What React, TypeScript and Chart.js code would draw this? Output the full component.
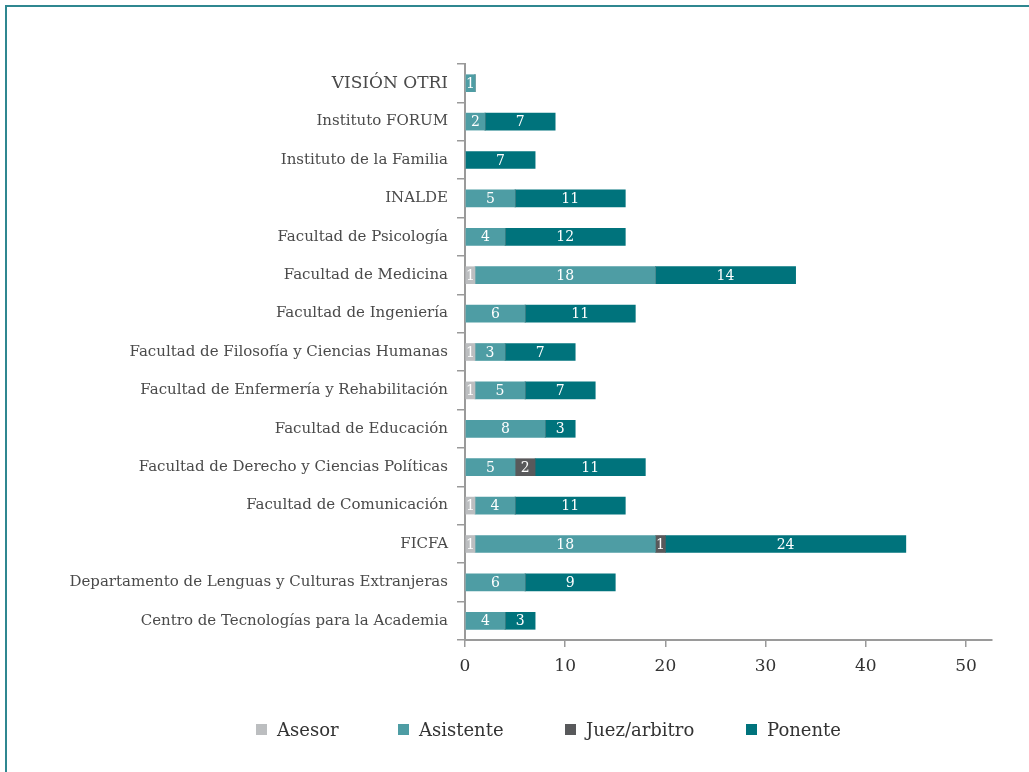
import React, { useEffect, useRef } from "react";
import { Chart, registerables } from "chart.js";

Chart.register(...registerables);

const categories = [
  "VISIÓN OTRI",
  "Instituto FORUM",
  "Instituto de la Familia",
  "INALDE",
  "Facultad de Psicología",
  "Facultad de Medicina",
  "Facultad de Ingeniería",
  "Facultad de Filosofía y Ciencias Humanas",
  "Facultad de Enfermería y Rehabilitación",
  "Facultad de Educación",
  "Facultad de Derecho y Ciencias Políticas",
  "Facultad de Comunicación",
  "FICFA",
  "Departamento de Lenguas y Culturas Extranjeras",
  "Centro de Tecnologías para la Academia",
];

const asesor = [0, 0, 0, 0, 0, 1, 0, 1, 1, 0, 0, 1, 1, 0, 0];
const asistente = [1, 2, 0, 5, 4, 18, 6, 3, 5, 8, 5, 4, 18, 6, 4];
const juez = [0, 0, 0, 0, 0, 0, 0, 0, 0, 0, 2, 0, 1, 0, 0];
const ponente = [0, 7, 7, 11, 12, 14, 11, 7, 7, 3, 11, 11, 24, 9, 3];

const seriesNames = ["Asesor", "Asistente", "Juez/arbitro", "Ponente"];
const seriesColors = ["#bcbec0", "#4e9da4", "#58595b", "#00737c"];
const xTickValues = [0, 10, 20, 30, 40, 50];

const FONT = "'DejaVu Serif', serif";

const barLabelPlugin = {
  id: "barLabels",
  afterDatasetsDraw(chart: any) {
    const ctx = chart.ctx;
    ctx.save();
    ctx.fillStyle = "#ffffff";
    ctx.font = `14px ${FONT}`;
    ctx.textAlign = "center";
    ctx.textBaseline = "middle";
    chart.data.datasets.forEach((ds: any, di: number) => {
      const meta = chart.getDatasetMeta(di);
      meta.data.forEach((el: any, i: number) => {
        const v = ds.data[i];
        if (!v) return;
        const cx = (el.x + el.base) / 2;
        ctx.fillText(String(v), cx, el.y + 1);
      });
    });
    ctx.restore();
  },
};

export default function App() {
  const ref = useRef<HTMLCanvasElement | null>(null);

  useEffect(() => {
    if (!ref.current) return;
    const data = [asesor, asistente, juez, ponente];
    const chart = new Chart(ref.current, {
      type: "bar",
      data: {
        labels: categories,
        datasets: seriesNames.map((name, k) => ({
          label: name,
          data: data[k],
          backgroundColor: seriesColors[k],
          borderWidth: 0,
          barThickness: 17,
        })),
      },
      options: {
        indexAxis: "y",
        animation: false,
        responsive: false,
        maintainAspectRatio: false,
        layout: { padding: { left: 10, right: 37, top: 64, bottom: 92 } },
        plugins: {
          legend: { display: false },
          tooltip: { enabled: false },
        },
        scales: {
          x: {
            stacked: true,
            min: 0,
            max: 52.6,
            afterBuildTicks: (scale: any) => {
              scale.ticks = xTickValues.map((v) => ({ value: v }));
            },
            afterFit: (scale: any) => {
              scale.height = 40;
            },
            ticks: {
              color: "#333333",
              font: { family: FONT, size: 17 },
              padding: 9,
              maxRotation: 0,
            },
            grid: {
              drawOnChartArea: false,
              drawTicks: true,
              tickLength: 7,
              color: "#9a9a9a",
              lineWidth: 1.5,
            },
            border: { display: true, color: "#9a9a9a", width: 2 },
          },
          y: {
            stacked: true,
            afterFit: (scale: any) => {
              scale.width = 455;
            },
            ticks: {
              color: "#4a4a4a",
              font: (c: any) => ({ family: FONT, size: c.index === 0 ? 17 : 15 }),
              padding: 9,
            },
            grid: {
              offset: true,
              drawOnChartArea: false,
              drawTicks: true,
              tickLength: 8,
              color: "#9a9a9a",
              lineWidth: 1.5,
            },
            border: { display: true, color: "#9a9a9a", width: 2 },
          },
        },
      } as any,
      plugins: [barLabelPlugin],
    });
    return () => chart.destroy();
  }, []);

  const legendX = [256, 398, 565, 746];

  return (
    <div
      style={{
        position: "fixed",
        left: 0,
        top: 0,
        width: 1029,
        height: 772,
        background: "#ffffff",
        overflow: "hidden",
      }}
    >
      <div
        style={{
          position: "absolute",
          left: 5,
          top: 5,
          width: 1100,
          height: 900,
          borderLeft: "2px solid #2f8790",
          borderTop: "2px solid #2f8790",
        }}
      />
      <canvas
        ref={ref}
        width={1029}
        height={772}
        style={{ position: "absolute", left: 0, top: 0, width: 1029, height: 772 }}
      />
      {seriesNames.map((name, k) => (
        <div
          key={name}
          style={{
            position: "absolute",
            left: legendX[k],
            top: 718,
            height: 22,
            display: "flex",
            alignItems: "center",
            fontFamily: FONT,
            fontSize: 18,
            color: "#333333",
            whiteSpace: "nowrap",
          }}
        >
          <span
            style={{
              display: "inline-block",
              width: 11,
              height: 11,
              background: seriesColors[k],
              marginRight: 10,
            }}
          />
          {name}
        </div>
      ))}
    </div>
  );
}
